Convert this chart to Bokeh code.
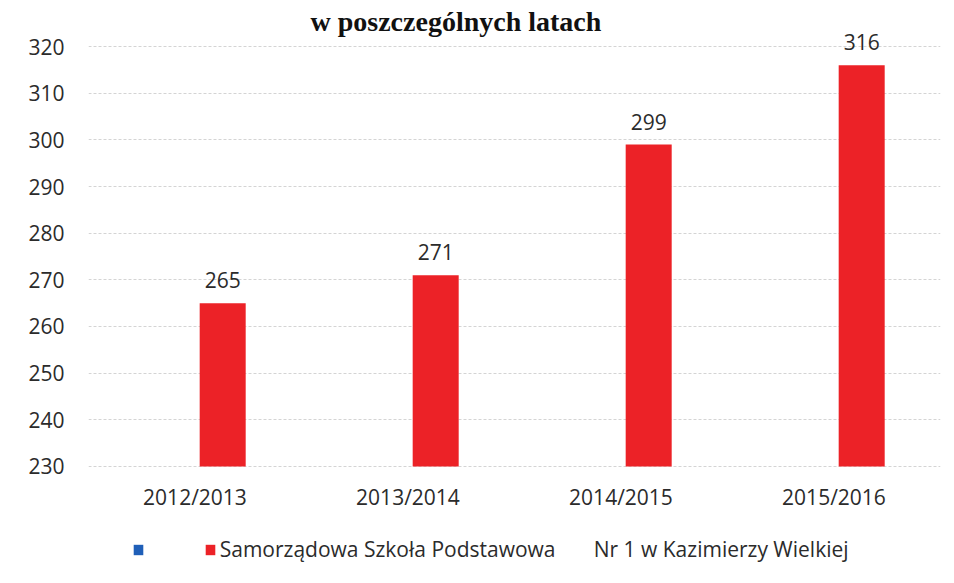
from bokeh.plotting import figure
from bokeh.models import ColumnDataSource, Range1d, FixedTicker, LabelSet, Legend, LegendItem, Label
from bokeh.transform import dodge
from bokeh.core.properties import value
from bokeh.embed import file_html
from bokeh.resources import INLINE

categories = ["2012/2013", "2013/2014", "2014/2015", "2015/2016"]
series_red = [265, 271, 299, 316]
series_blue = [0, 0, 0, 0]
y_ticks = [230, 240, 250, 260, 270, 280, 290, 300, 310, 320]
title_text = "w poszczególnych latach"
red_name = "Samorządowa Szkoła Podstawowa" + "\u00a0" * 7 + "Nr 1 w Kazimierzy Wielkiej"
blue_name = "\u00a0" * 6

FONT = "Open Sans"
FS = "21px"
TXT = "#2b2b2b"

src = ColumnDataSource(dict(cat=categories, red=series_red, blue=series_blue,
                            lab=[str(v) for v in series_red]))

p = figure(x_range=categories, y_range=Range1d(206.64, 329.86), width=946, height=575,
           output_backend="svg", toolbar_location=None,
           min_border_left=88, min_border_right=6, min_border_top=0, min_border_bottom=0)
p.outline_line_color = None
p.background_fill_color = "white"
p.border_fill_color = "white"

blue_r = p.vbar(x=dodge("cat", -0.09, range=p.x_range), top="blue", bottom=0, width=0.216,
                source=src, fill_color="#1f5fb8", line_color=None)
red_r = p.vbar(x=dodge("cat", 0.13, range=p.x_range), top="red", bottom=y_ticks[0], width=0.216,
               source=src, fill_color="#ec2227", line_color=None)

labels = LabelSet(x=dodge("cat", 0.13, range=p.x_range), y="red", text="lab", source=src,
                  text_align="center", text_baseline="bottom", y_offset=15,
                  text_font=value(FONT), text_font_size=FS, text_color=TXT)
p.add_layout(labels)

# category labels under the baseline (x axis tick labels)
cat_labels = LabelSet(x="cat", y=y_ticks[0], text="cat", source=src,
                      text_align="center", text_baseline="middle", y_offset=-31,
                      text_font=value(FONT), text_font_size=FS, text_color=TXT)
p.add_layout(cat_labels)

title = Label(x=222, y=554, x_units="screen", y_units="screen", text=title_text,
              text_align="left", text_baseline="alphabetic",
              text_font="Liberation Serif", text_font_style="bold",
              text_font_size="28px", text_color="#111111")
p.add_layout(title)

p.xaxis.visible = False
p.yaxis.ticker = FixedTicker(ticks=y_ticks)
p.yaxis.axis_line_color = None
p.yaxis.major_tick_line_color = None
p.yaxis.minor_tick_line_color = None
p.yaxis.major_label_standoff = 18
p.yaxis.major_label_text_font = FONT
p.yaxis.major_label_text_font_size = FS
p.yaxis.major_label_text_color = TXT

p.xgrid.grid_line_color = None
p.ygrid.grid_line_color = "#d4d4d4"
p.ygrid.grid_line_dash = "3 2"

legend = Legend(items=[LegendItem(label=blue_name, renderers=[blue_r]),
                       LegendItem(label=red_name, renderers=[red_r])],
                orientation="horizontal", location=(44, 12),
                glyph_width=12, glyph_height=13, label_standoff=4, spacing=23,
                label_text_font=FONT, label_text_font_size=FS, label_text_color=TXT,
                border_line_color=None, background_fill_alpha=0, margin=0, padding=6)
p.add_layout(legend)

open("out.html", "w").write(file_html(p, INLINE))
